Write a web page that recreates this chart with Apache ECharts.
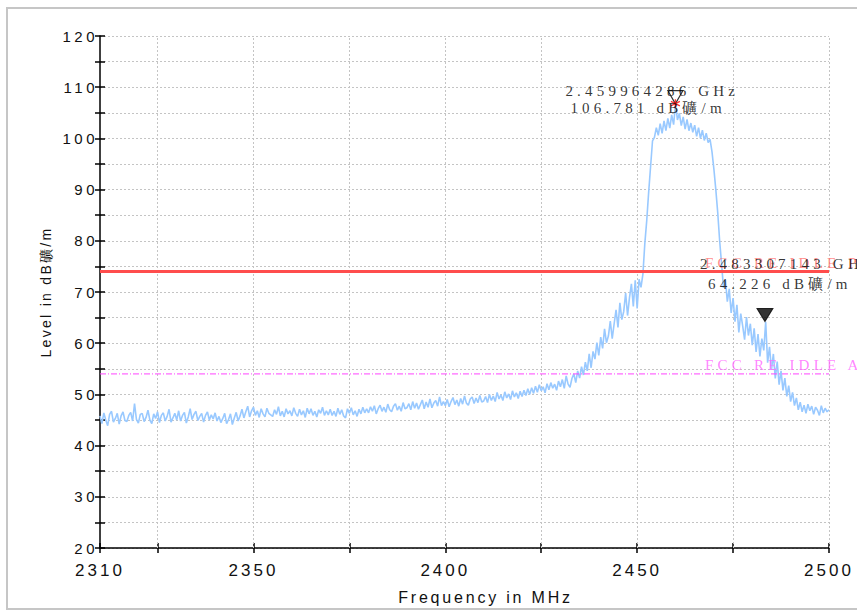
<!DOCTYPE html>
<html>
<head>
<meta charset="utf-8">
<script src="https://cdn.jsdelivr.net/npm/echarts@6/dist/echarts.min.js"></script>
<style>
html,body{margin:0;padding:0;background:#fff;}
#chart{width:857px;height:610px;}
text[style*="15px"]{letter-spacing:3.5px;}
text[style*="14px"]{letter-spacing:2.3px;}
text[style*="17px"]{letter-spacing:3px;}
text[style*="16px"]{letter-spacing:2.8px;}
text[style*="Serif"]{letter-spacing:4.2px;}
</style>
</head>
<body>
<div id="chart"></div>
<script>
// ---- data ----
const startFreqMHz = 2310;
const stepMHz = 0.5;
const levels2310 = [45.8,44.3,46.4,45.0,43.9,46.1,46.7,44.6,45.3,46.3,44.2,45.8,46.6,44.9,44.7,45.9,46.5,44.8,48.2,45.1];
const levels2320 = [44.4,46.1,46.3,44.7,45.5,46.9,45.0,44.3,46.2,45.3,46.6,44.5,45.9,46.4,44.8,45.7,47.1,44.6,45.4,46.3];
const levels2330 = [45.0,46.8,44.8,45.9,46.5,44.4,45.6,47.2,45.1,46.1,46.7,44.9,45.7,46.3,44.6,45.9,46.6,45.0,46.0,45.2];
const levels2340 = [46.4,44.8,45.7,44.5,45.3,46.3,44.3,45.1,46.2,44.1,45.4,46.5,44.8,45.8,47.1,45.4,46.6,47.7,45.6,46.8];
const levels2350 = [47.5,45.9,46.8,45.5,47.2,46.2,45.6,47.3,46.3,46.0,45.7,47.0,46.1,47.6,45.8,46.7,45.6,47.2,46.2,46.8];
const levels2360 = [45.8,47.4,46.3,45.7,47.1,46.0,46.8,45.5,47.3,46.2,47.2,45.9,46.7,45.6,47.0,46.3,47.5,45.9,46.8,46.0];
const levels2370 = [47.1,45.9,46.7,45.7,47.3,46.1,47.0,45.8,45.4,47.2,46.3,47.4,46.0,46.8,45.7,47.1,46.2,47.5,46.4,47.2];
const levels2380 = [46.4,47.6,46.7,47.8,46.2,47.2,47.9,46.7,47.5,46.5,48.1,47.0,46.6,47.7,48.2,46.9,47.7,46.7,48.4,47.2];
const levels2390 = [47.4,48.2,47.0,48.6,47.3,48.3,47.1,48.0,48.9,47.2,48.5,47.5,49.1,47.4,48.3,48.8,47.7,49.5,47.8,48.6];
const levels2400 = [47.8,49.0,47.6,48.6,49.4,48.0,48.9,47.7,49.2,48.1,49.7,48.3,47.9,49.1,49.5,48.2,49.3,48.4,49.8,48.5];
const levels2410 = [48.7,49.6,48.4,50.0,48.8,49.7,48.6,50.4,49.1,49.9,48.8,50.5,49.3,50.1,49.0,50.7,49.5,50.3,49.2,50.6];
const levels2420 = [49.6,50.8,49.8,51.1,50.0,51.3,50.2,51.6,50.4,51.9,50.7,51.5,50.3,52.1,50.9,52.3,51.2,52.0,50.8,52.6];
const levels2430 = [51.5,52.9,51.2,53.6,52.0,51.4,53.1,54.0,52.3,54.6,53.2,55.4,53.8,56.3,54.6,57.9,55.2,58.4,56.9,60.1];
const levels2440 = [57.6,61.2,59.0,62.8,60.1,61.4,64.3,60.9,63.8,66.5,63.1,67.9,64.6,66.2,69.8,65.4,68.9,71.6,67.2,72.3];
const levels2450 = [66.8,72.5,70.9,73.5,79.5,84.0,89.5,94.5,99.5,100.2,102.1,100.6,102.9,101.0,103.4,101.5,103.9,102.0,104.6,102.7];
const levels2460 = [106.8,103.6,104.9,102.5,104.2,101.8,103.7,101.5,103.0,101.2,102.6,100.4,102.1,100.0,101.6,99.6,101.0,99.2,99.8,97.4];
const levels2470 = [94.0,90.0,85.5,80.0,75.5,70.8,72.4,68.1,70.6,65.9,68.8,64.2,67.5,62.1,65.8,63.4,60.7,65.1,61.5,63.8];
const levels2480 = [59.6,62.9,58.3,61.8,57.4,60.9,58.6,64.2,56.2,59.3,54.8,57.9,53.1,56.4,51.9,54.6,50.8,53.2,49.6,51.7];
const levels2490 = [48.6,50.4,47.8,49.3,47.0,48.5,46.6,47.9,46.3,48.1,46.8,47.7,46.1,47.5,46.9,45.9,47.8,46.4,47.3,46.6];
const levels2500 = [47.0];

const limitPK = 74;
const limitAV = 54;
const limitNames = ['FCC RE IDLE PK', 'FCC RE IDLE AV'];

const xMin = 2310, xMax = 2500;
const yMin = 20, yMax = 120, yStep = 5;
const xTickValues = [2310, 2325, 2350, 2375, 2400, 2425, 2450, 2475, 2500];
const xLabelValues = [2310, 2350, 2400, 2450, 2500];
const xGridValues = [2325, 2350, 2375, 2400, 2425, 2450, 2475, 2500];

const markerFreqMHz = [2459.964286, 2483.307143];
const markerLevel = [106.781, 64.226];
const markerLine1 = ['2.459964286 GHz', '2.483307143 GHz'];
const markerLine2 = ['106.781 dB礦/m', '64.226 dB礦/m'];

const xName = 'Frequency in MHz';
const yName = 'Level in dB礦/m';

// ---- build ----
const levels = [].concat(levels2310, levels2320, levels2330, levels2340, levels2350,
  levels2360, levels2370, levels2380, levels2390, levels2400, levels2410, levels2420,
  levels2430, levels2440, levels2450, levels2460, levels2470, levels2480, levels2490, levels2500);
const traceData = levels.map((v, i) => [startFreqMHz + i * stepMHz, v]);

const sans = 'Liberation Sans';
const serif = 'Liberation Serif';
const gridLineStyle = { color: '#c4c4c4', type: [2, 2], width: 1 };
const axisBlack = { color: '#000', width: 1.5 };

const chart = echarts.init(document.getElementById('chart'), null, { renderer: 'svg' });

const triPath = 'path://M0,0L16,0L8,13Z';
const starPath = 'path://M4,0L4,8M0,2L8,6M0,6L8,2';

const option = {
  backgroundColor: '#fff',
  animation: false,
  graphic: [{
    type: 'rect', shape: { x: 7, y: 8, width: 880, height: 601 },
    style: { fill: 'none', stroke: '#c6c6c6', lineWidth: 2 }, z: -10, silent: true
  }],
  grid: { left: 100, right: 28, top: 36, bottom: 62, containLabel: false, outerBoundsMode: 'none' },
  xAxis: [{
    type: 'value', min: xMin, max: xMax, position: 'bottom',
    axisLine: { show: true, lineStyle: axisBlack },
    axisTick: { show: true, length: 5, inside: false, customValues: xTickValues, lineStyle: axisBlack },
    axisLabel: { show: true, customValues: xLabelValues, fontSize: 17, fontFamily: sans, color: '#111', margin: 14,
      formatter: v => String(v) },
    splitLine: { show: false },
    name: xName, nameLocation: 'middle', nameGap: 41,
    nameTextStyle: { fontSize: 16, fontFamily: sans, color: '#111', padding: [0, 0, 0, 42] }
  }, {
    type: 'value', min: xMin, max: xMax, position: 'bottom', gridIndex: 0,
    axisLine: { show: false },
    axisTick: { show: true, length: 5, inside: true, customValues: xTickValues, lineStyle: axisBlack },
    axisLabel: { show: false },
    splitLine: { show: false }
  }],
  yAxis: [{
    type: 'value', min: yMin, max: yMax, interval: yStep, position: 'left',
    axisLine: { show: true, lineStyle: axisBlack },
    axisTick: { show: true, length: 5, inside: false, lineStyle: axisBlack },
    axisLabel: { show: true, fontSize: 15, fontFamily: sans, color: '#111', margin: 2,
      formatter: v => (v % 10 === 0 ? String(v) : '') },
    splitLine: { show: true, lineStyle: gridLineStyle },
    name: yName, nameLocation: 'middle', nameGap: 47, nameRotate: 90,
    nameTextStyle: { fontSize: 14, fontFamily: sans, color: '#111' }
  }, {
    type: 'value', min: yMin, max: yMax, interval: yStep, position: 'left', gridIndex: 0,
    axisLine: { show: false },
    axisTick: { show: true, length: 5, inside: true, lineStyle: axisBlack },
    axisLabel: { show: false },
    splitLine: { show: false }
  }],
  series: [
    {
      name: 'grid', type: 'line', data: [], silent: true,
      markLine: {
        silent: true, z: 1, symbol: ['none', 'none'], animation: false,
        label: { show: false },
        lineStyle: gridLineStyle,
        data: xGridValues.map(v => ({ xAxis: v }))
      }
    },
    {
      name: 'trace', type: 'line', data: traceData, symbol: 'none', showSymbol: false,
      lineStyle: { color: '#99c9ff', width: 1.6 }, z: 2, silent: true
    },
    {
      name: 'PK', type: 'line', data: [[xMin, limitPK], [xMax, limitPK]], symbol: 'none',
      lineStyle: { color: '#ff4d4d', width: 3 }, z: 3, silent: true
    },
    {
      name: 'AV', type: 'line', data: [[xMin, limitAV], [xMax, limitAV]], symbol: 'none',
      lineStyle: { color: '#ff44ff', width: 1, type: [6, 2, 1, 2] }, z: 3, silent: true
    },
    {
      name: 'limitLabels', type: 'scatter', symbolSize: 0, z: 4, silent: true,
      data: [
        { value: [xMax, limitPK], label: { color: '#ff6e6e', formatter: limitNames[0] } },
        { value: [xMax, limitAV], label: { color: '#ff66ff', formatter: limitNames[1] } }
      ],
      label: { show: true, position: 'inside', align: 'left', verticalAlign: 'middle',
        offset: [-124, -9], fontSize: 15, fontFamily: serif }
    },
    {
      name: 'markers', type: 'scatter', z: 6, silent: true,
      symbol: triPath, symbolSize: [15, 13], symbolOffset: [0, -6.5], symbolKeepAspect: false,
      data: [
        { value: [markerFreqMHz[0], markerLevel[0]], itemStyle: { color: 'rgba(255,255,255,0)', borderColor: '#000', borderWidth: 1.2 } },
        { value: [markerFreqMHz[1], markerLevel[1]], symbolSize: [16, 13], itemStyle: { color: '#000', borderColor: '#000', borderWidth: 1 } }
      ]
    },
    {
      name: 'peakStar', type: 'scatter', z: 7, silent: true,
      symbol: starPath, symbolSize: 9,
      itemStyle: { color: 'rgba(0,0,0,0)', borderColor: '#ff0000', borderWidth: 1.3 },
      data: [[markerFreqMHz[0], markerLevel[0]]]
    },
    {
      name: 'markerText', type: 'scatter', symbolSize: 0, z: 8, silent: true,
      label: { show: true, position: 'inside', align: 'left', verticalAlign: 'middle',
        fontSize: 15, fontFamily: serif, color: '#000' },
      data: [
        { value: [markerFreqMHz[0], markerLevel[0]], label: { formatter: markerLine1[0], offset: [-110, -13] } },
        { value: [markerFreqMHz[0], markerLevel[0]], label: { formatter: markerLine2[0], offset: [-105, 4.5] } },
        { value: [markerFreqMHz[1], markerLevel[1]], label: { formatter: markerLine1[1], offset: [-65, -57.5] } },
        { value: [markerFreqMHz[1], markerLevel[1]], label: { formatter: markerLine2[1], offset: [-57, -37.5] } }
      ]
    }
  ]
};
chart.setOption(option);
</script>
</body>
</html>
